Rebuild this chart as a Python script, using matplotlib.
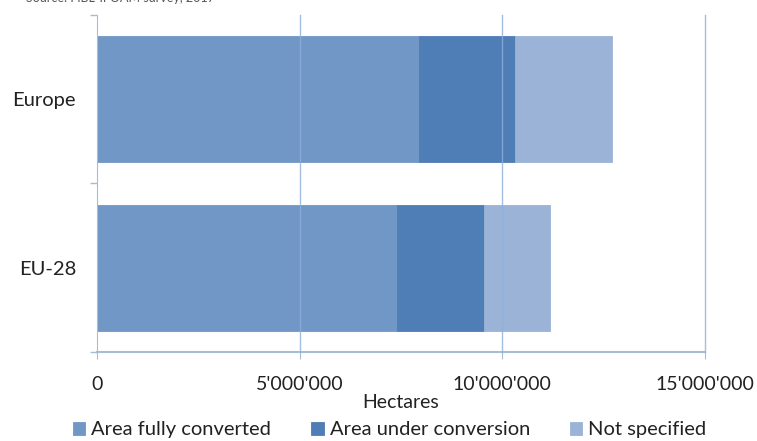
import matplotlib.pyplot as plt
from matplotlib.ticker import FuncFormatter

plt.rcParams['font.family'] = ['Lato', 'DejaVu Sans']

# data (hectares)
regions = ["Europe", "EU-28"]
fully_converted = [7940000, 7400000]
under_conversion = [2370000, 2150000]
not_specified = [2400000, 1630000]

series = [
    ("Area fully converted", fully_converted, "#7097c6"),
    ("Area under conversion", under_conversion, "#4f7db6"),
    ("Not specified", not_specified, "#9ab3d6"),
]

fig = plt.figure(figsize=(7.57, 4.41), dpi=100)
ax = fig.add_axes([0.128, 0.202, 0.803, 0.764])

ypos = list(range(len(regions)))
left = [0, 0]
for name, vals, color in series:
    ax.barh(ypos, vals, left=left, height=0.75, color=color, label=name,
            edgecolor=color, linewidth=0.6, zorder=2)
    left = [a + b for a, b in zip(left, vals)]

ax.set_xlim(0, 15000000)
ax.set_ylim(1.5, -0.5)
ax.set_xticks([0, 5000000, 10000000, 15000000])
ax.xaxis.set_major_formatter(FuncFormatter(lambda v, p: f"{int(v):,}".replace(",", "'")))
ax.set_yticks(ypos)
ax.set_yticklabels(regions)
ax.set_yticks([-0.5, 0.5, 1.5], minor=True)
ax.tick_params(axis='y', which='major', length=0, pad=15, labelsize=14.5, colors='#222222')
ax.tick_params(axis='y', which='minor', length=5, color='#a8bcd8', width=1)
ax.tick_params(axis='x', length=5, color='#a8bcd8', labelsize=14, pad=12, colors='#222222')

# vertical gridlines drawn over the bars (the reference shows them through)
for gx in [5000000, 10000000, 15000000]:
    ax.axvline(gx, color='#8fb0dc', linewidth=1, alpha=0.8, zorder=3, clip_on=False)

for s in ['top', 'right']:
    ax.spines[s].set_visible(False)
ax.spines['left'].set_color('#a8bcd8')
ax.spines['bottom'].set_color('#a8bcd8')
ax.spines['bottom'].set_linewidth(1.5)

ax.set_xlabel("Hectares", fontsize=14, labelpad=1, color='#222222')

fig.legend(loc='lower center', bbox_to_anchor=(0.515, -0.035), ncol=3, frameon=False,
           fontsize=14.5, handlelength=0.6, handleheight=0.6, handletextpad=0.3,
           columnspacing=2.0, labelcolor='#222222')

fig.text(0.035, 1.005, "Source: FiBL-IFOAM survey, 2017", fontsize=9, color='#555555',
         va='center')

fig.savefig("out.png", dpi=100)
